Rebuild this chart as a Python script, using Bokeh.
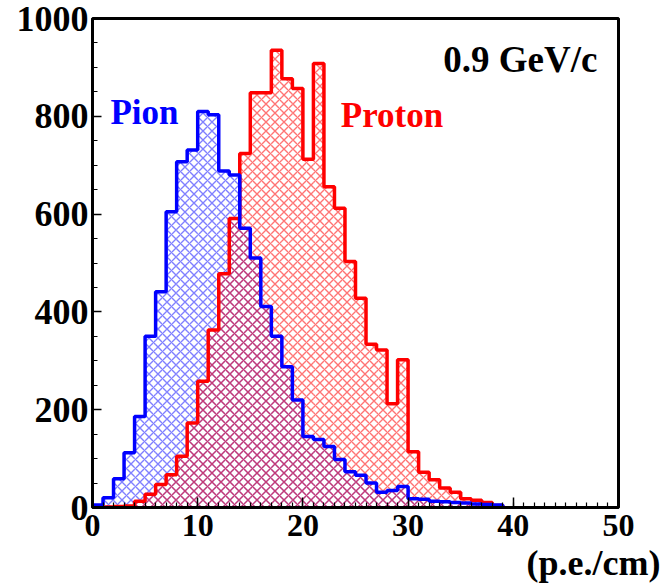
from bokeh.plotting import figure
from bokeh.models import Range1d, Label, ColumnDataSource, FixedTicker, Title
from bokeh.embed import file_html
from bokeh.resources import INLINE

# ---- data ----
bin_edges = list(range(0, 40))  # bins of width 1 p.e./cm, 0..39
pion = [5, 20, 59, 112, 186, 350, 441, 605, 707, 731, 810, 803, 688, 680, 571,
        510, 411, 350, 288, 220, 145, 139, 125, 98, 73, 66, 50, 31, 35, 43,
        18, 17, 13, 12, 10, 9, 7, 6, 5]
proton = [0, 1, 2, 3, 13, 27, 47, 67, 105, 173, 258, 363, 478, 591, 724,
          848, 848, 935, 877, 857, 712, 908, 656, 612, 503, 428, 334, 322, 212, 302,
          114, 72, 57, 40, 31, 18, 15, 10, 4]
x_ticks = [0, 10, 20, 30, 40, 50]
y_ticks = [0, 200, 400, 600, 800, 1000]

FONT = "Liberation Serif"

p = figure(width=661, height=585, output_backend="svg", toolbar_location=None,
           x_range=Range1d(0, 50), y_range=Range1d(0, 1000),
           min_border_left=92, min_border_right=43, min_border_top=18, min_border_bottom=77)
p.background_fill_color = "white"
p.border_fill_color = "white"
p.outline_line_color = "black"
p.outline_line_width = 3
p.xgrid.grid_line_color = None
p.ygrid.grid_line_color = None


def hist_sources(values):
    lefts = bin_edges[:len(values)]
    rights = [e + 1 for e in lefts]
    quad = ColumnDataSource(dict(left=lefts, right=rights, top=values, bottom=[0] * len(values)))
    xs = [lefts[0]] + lefts + [rights[-1]]
    ys = [0] + values + [0]
    step = ColumnDataSource(dict(x=xs, y=ys))
    return quad, step


pq, ps = hist_sources(proton)
bq, bs = hist_sources(pion)

# hatched fills
p.quad(left="left", right="right", top="top", bottom="bottom", source=bq,
       fill_color=None, line_color=None, hatch_pattern="x", hatch_color="#0000ff",
       hatch_alpha=0.5, hatch_scale=9, hatch_weight=1.4)
p.quad(left="left", right="right", top="top", bottom="bottom", source=pq,
       fill_color=None, line_color=None, hatch_pattern="x", hatch_color="#ff0000",
       hatch_alpha=0.55, hatch_scale=9, hatch_weight=1.4)

# outlines
p.step(x="x", y="y", source=ps, mode="after", line_color="#ff0000", line_width=3.5)
p.step(x="x", y="y", source=bs, mode="after", line_color="#0000ff", line_width=3.5)

# axes
for ax in (p.xaxis[0], p.yaxis[0]):
    ax.axis_line_width = 3
    ax.axis_line_color = "black"
    ax.major_tick_out = 0
    ax.minor_tick_out = 0
    ax.major_tick_line_color = "black"
    ax.minor_tick_line_color = "black"
    ax.major_tick_line_width = 1.5
    ax.minor_tick_line_width = 1.2
    ax.major_label_text_font = FONT
    ax.major_label_text_font_style = "bold"
    ax.major_label_text_color = "black"

p.xaxis.ticker = FixedTicker(ticks=x_ticks, minor_ticks=list(range(0, 51)))
p.yaxis.ticker = FixedTicker(ticks=y_ticks, minor_ticks=list(range(0, 1001, 50)))
p.xaxis.major_tick_in = 10
p.xaxis.minor_tick_in = 5
p.yaxis.major_tick_in = 9
p.yaxis.minor_tick_in = 5
p.xaxis.major_label_text_font_size = "32px"
p.yaxis.major_label_text_font_size = "36px"
p.xaxis.major_label_standoff = 7
p.yaxis.major_label_standoff = 4

# unit label under the x axis, right-aligned past the frame edge
p.add_layout(Title(text="(p.e./cm)", align="right", offset=-42, standoff=5,
                   text_font=FONT, text_font_style="bold", text_font_size="36px",
                   text_color="black"), "below")

# labels inside the frame
p.add_layout(Label(x=1.7, y=808, text="Pion", text_font=FONT, text_font_style="bold",
                   text_font_size="35px", text_color="#0000ff", text_baseline="alphabetic"))
p.add_layout(Label(x=23.6, y=802, text="Proton", text_font=FONT, text_font_style="bold",
                   text_font_size="35px", text_color="#ff0000", text_baseline="alphabetic"))
p.add_layout(Label(x=48.0, y=916, text="0.9 GeV/c", text_font=FONT, text_font_style="bold",
                   text_font_size="37px", text_color="black", text_align="right",
                   text_baseline="alphabetic"))

open("out.html", "w").write(file_html(p, INLINE))
